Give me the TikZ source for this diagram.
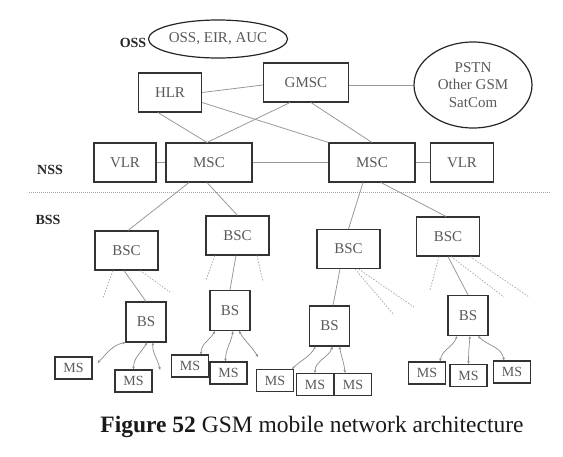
\documentclass[tikz,border=0pt]{standalone}
\usepackage{fontspec}
\setmainfont{Liberation Serif}
\usetikzlibrary{shapes.geometric,arrows.meta}

\begin{document}
\begin{tikzpicture}[x=1pt,y=1pt,
    box/.style={draw=black!80, line width=1.1pt, inner sep=0pt, minimum height=39pt,
      text=black!65, font=\fontsize{15}{18}\selectfont},
    msbox/.style={box, minimum width=37pt, minimum height=22pt, font=\fontsize{14}{16}\selectfont},
    cloud/.style={ellipse, draw=black!85, line width=1.2pt, inner sep=0pt,
      text=black!65, font=\fontsize{15}{17.5}\selectfont, align=center},
    layer/.style={font=\bfseries\fontsize{14}{16}\selectfont, text=black!85},
    link/.style={draw=black!40, line width=0.8pt},
    spare/.style={draw=black!35, line width=0.7pt, dash pattern=on 1.5pt off 1.5pt},
    radio/.style={draw=black!45, line width=0.7pt, <->, >={Stealth[length=3pt,width=2.5pt]}}]
                \useasboundingbox (0,0) rectangle (563,-456);

                % Layer labels
                \node[layer] (oss) at (133,-43) {OSS};
                \node[layer] (nss) at (50,-170) {NSS};
                \node[layer] (bss) at (48,-220) {BSS};

                % Core network
                \node[cloud, minimum width=118pt, minimum height=38pt] (osscloud) at (218,-39) {OSS, EIR, AUC};
                \node[box, minimum width=63pt] (hlr) at (170,-92.5) {HLR};
                \node[box, minimum width=85pt] (gmsc) at (306,-82.5) {GMSC};
                \node[cloud, minimum width=118pt, minimum height=86pt] (pstn) at (473,-85) {PSTN\\Other GSM\\SatCom};
                \node[box, minimum width=62pt] (vlrL) at (125,-162.5) {VLR};
                \node[box, minimum width=86pt] (mscL) at (209,-162.5) {MSC};
                \node[box, minimum width=86pt] (mscR) at (372,-162.5) {MSC};
                \node[box, minimum width=63pt] (vlrR) at (462,-162.5) {VLR};

                \draw[link] (hlr.east) -- ([yshift=-2.5pt]gmsc.west);
                \draw[link] ([xshift=-12pt]hlr.south) -- ([xshift=-2pt]mscL.north);
                \draw[link] ([yshift=-10pt]hlr.east) -- (mscR.north west);
                \draw[link] ([xshift=-16pt]gmsc.south) -- ([xshift=-2pt]mscL.north);
                \draw[link] ([xshift=5pt]gmsc.south) -- (mscR.north);
                \draw[link] ([yshift=-2.5pt]gmsc.east) -- (pstn.west);
                \draw[link] (vlrL.east) -- (mscL.west);
                \draw[link] (mscL.east) -- (mscR.west);
                \draw[link] (mscR.east) -- (vlrR.west);

                % Separator
                \draw[draw=black!35, line width=0.6pt, dash pattern=on 1pt off 1pt] (29,-192) -- (550,-192);

                % Base station controllers
                \node[box, minimum width=63pt] (bsc1) at (126.5,-250.5) {BSC};
                \node[box, minimum width=63pt] (bsc2) at (237.5,-235.5) {BSC};
                \node[box, minimum width=63pt] (bsc3) at (348.5,-249) {BSC};
                \node[box, minimum width=63pt] (bsc4) at (448,-236.5) {BSC};

                \draw[link] ([xshift=-20pt]mscL.south) -- ([xshift=1.5pt]bsc1.north);
                \draw[link] ([xshift=-2pt]mscL.south) -- (bsc2.north);
                \draw[link] ([xshift=-9pt]mscR.south) -- (bsc3.north);
                \draw[link] ([xshift=9pt]mscR.south) -- ([xshift=-2pt]bsc4.north);

                % Base stations
                \node[box, minimum width=40pt, minimum height=40pt] (bs1) at (146,-322) {BS};
                \node[box, minimum width=40pt, minimum height=40pt] (bs2) at (230,-310.5) {BS};
                \node[box, minimum width=40pt, minimum height=40pt] (bs3) at (329.5,-326) {BS};
                \node[box, minimum width=40pt, minimum height=40pt] (bs4) at (468,-315.5) {BS};

                \draw[link] ([xshift=-2.5pt]bsc1.south) -- (bs1.north);
                \draw[link] ([xshift=-1.5pt]bsc2.south) -- (bs2.north);
                \draw[link] ([xshift=-8.5pt]bsc3.south) -- ([xshift=3.5pt]bs3.north);
                \draw[link] (bsc4.south) -- (bs4.north);

                % Unused BSC ports
                \coordinate (p1a) at (103,-298);
                \coordinate (p1b) at (170,-292);
                \coordinate (p2a) at (206,-280);
                \coordinate (p2b) at (263,-282);
                \coordinate (p3a) at (394,-315);
                \coordinate (p3b) at (414,-307);
                \coordinate (p4a) at (430,-290);
                \coordinate (p4b) at (504,-297);
                \coordinate (p4c) at (529,-297);
                \draw[spare] ([xshift=-13.5pt]bsc1.south) -- (p1a);
                \draw[spare] ([xshift=13.5pt]bsc1.south) -- (p1b);
                \draw[spare] ([xshift=-22.5pt]bsc2.south) -- (p2a);
                \draw[spare] ([xshift=19.5pt]bsc2.south) -- (p2b);
                \draw[spare] ([xshift=6.5pt]bsc3.south) -- (p3a);
                \draw[spare] ([xshift=10pt]bsc3.south) -- (p3b);
                \draw[spare] ([xshift=-9pt]bsc4.south) -- (p4a);
                \draw[spare] ([xshift=3pt]bsc4.south) -- (p4b);
                \draw[spare] ([xshift=22pt]bsc4.south) -- (p4c);

                % Mobile stations
                \node[msbox] (ms1) at (73.5,-368) {MS};
                \node[msbox] (ms2) at (133.5,-381) {MS};
                \node[msbox] (ms3) at (190,-366) {MS};
                \node[msbox] (ms4) at (228.5,-373) {MS};
                \node[msbox] (ms5) at (275,-380.5) {MS};
                \node[msbox] (ms6) at (315,-384.5) {MS};
                \node[msbox] (ms7) at (353,-384.5) {MS};
                \node[msbox] (ms8) at (427,-373) {MS};
                \node[msbox] (ms9) at (468.5,-375.5) {MS};
                \node[msbox] (ms10) at (512,-372) {MS};

                % Radio links
                \coordinate (r1) at (160,-370);
                \coordinate (r2) at (258,-357);
                \draw[radio] (bs1.south west) to[out=190,in=45] ([shift={(5pt,5pt)}]ms1.east);
                \draw[radio] ([xshift=1pt]bs1.south) to[out=-120,in=90] (ms2.north);
                \draw[radio] ([xshift=7pt]bs1.south) to[out=-95,in=100] (r1);
                \draw[radio] ([xshift=-15pt]bs2.south) to[out=-120,in=90] ([xshift=11pt]ms3.north);
                \draw[radio] ([xshift=3pt]bs2.south) to[out=-100,in=90] ([xshift=-3pt]ms4.north);
                \draw[radio] ([xshift=9pt]bs2.south) to[out=-60,in=120] (r2);
                \draw[radio] ([xshift=-14pt]bs3.south) to[out=-120,in=45] ([xshift=-2pt]ms5.north east);
                \draw[radio] ([xshift=3pt]bs3.south) to[out=-110,in=90] (ms6.north);
                \draw[radio] ([xshift=10pt]bs3.south) to[out=-80,in=95] ([xshift=-8pt]ms7.north);
                \draw[radio] ([xshift=-11pt]bs4.south) to[out=-110,in=80] ([xshift=13pt]ms8.north);
                \draw[radio] ([xshift=2pt]bs4.south) to[out=-95,in=90] (ms9.north);
                \draw[radio] ([xshift=10pt]bs4.south) to[out=-45,in=100] ([xshift=-8pt]ms10.north);

                % Caption
                \node[font=\fontsize{23.5}{28}\selectfont, text=black!90] (caption) at (312,-427)
                  {\textbf{Figure 52} GSM mobile network architecture};
            \end{tikzpicture}
\end{document}
